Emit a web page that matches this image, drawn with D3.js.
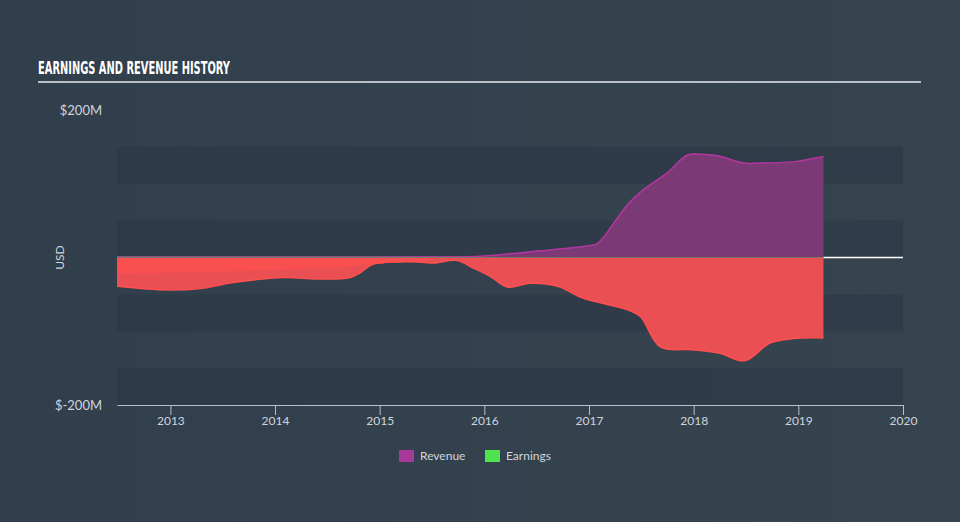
<!DOCTYPE html>
<html>
<head>
<meta charset="utf-8">
<script src="https://cdn.jsdelivr.net/npm/d3@7"></script>
<style>
  body { margin: 0; background: #344352; }
  svg { display: block; }
  text { font-family: Lato, "DejaVu Sans", sans-serif; }
</style>
</head>
<body>
<svg id="chart" width="960" height="522"></svg>
<script>
// values, in $M, keyed by decimal year
var revYears = [2012.49, 2015.0, 2015.77, 2016.0, 2016.53, 2016.98, 2017.07, 2017.13, 2017.37, 2017.52, 2017.75, 2017.94, 2018.07, 2018.23, 2018.48, 2018.64, 2018.96, 2019.24];
var revenue  = [0.5, 0.5, 1, 2, 9, 15.6, 18, 26, 72, 92, 115, 139, 140, 138, 128, 128, 130, 137];

var earnYears = [2012.49, 2012.97, 2013.29, 2013.6, 2014.08, 2014.4, 2014.72, 2014.81, 2014.94, 2015.36, 2015.51, 2015.74, 2015.89, 2016.06, 2016.22, 2016.44, 2016.7, 2016.94, 2017.37, 2017.49, 2017.68, 2017.99, 2018.25, 2018.49, 2018.73, 2018.95, 2019.24];
var earnings  = [-39, -44, -42, -34, -27, -29, -27, -21, -9, -6, -7.5, -4, -14, -26, -40, -35, -39, -55, -71, -80, -121, -125, -130, -140, -116, -110, -109];

// lighter red band seen at the top of the earnings area early on
var bandYears = [2012.49, 2013.5, 2014.5, 2014.94, 2015.5];
var band      = [-22, -19, -14, -9, -4];

var xTicks = [2013, 2014, 2015, 2016, 2017, 2018, 2019, 2020];
var yLabels = [200, -200];
var bandEdges = [150, 100, 50, 0, -50, -100, -150, -200];

var legendNames = ["Revenue", "Earnings"];
var legendColors = ["#a8399b", "#4ee34e"];

(function () {
  var svg = d3.select("#chart");

  var defs = svg.append("defs");
  var grad = defs.append("linearGradient").attr("id", "bg").attr("x1", 0).attr("x2", 1);
  grad.append("stop").attr("offset", 0).attr("stop-color", "#313e4c");
  grad.append("stop").attr("offset", 1).attr("stop-color", "#36444f");
  svg.append("rect").attr("width", 960).attr("height", 522).attr("fill", "url(#bg)");

  var mLeft = 117, mRight = 903, mTop = 110, mBottom = 405;

  var x = d3.scaleLinear().domain([2012.49, 2020]).range([mLeft, mRight]);
  var y = d3.scaleLinear().domain([-200, 200]).range([mBottom, mTop]);

  // title
  svg.append("text").attr("x", 38).attr("y", 74)
    .style("font-family", "'DejaVu Sans Condensed', 'DejaVu Sans', sans-serif")
    .style("font-weight", "bold").style("font-size", "17px")
    .attr("textLength", 192).attr("lengthAdjust", "spacingAndGlyphs")
    .attr("fill", "#ffffff").text("EARNINGS AND REVENUE HISTORY");
  svg.append("line").attr("x1", 38).attr("x2", 921).attr("y1", 82).attr("y2", 82)
    .attr("stroke", "#b9bfc7").attr("stroke-width", 2);

  // background bands
  for (var i = 0; i < bandEdges.length - 1; i += 2) {
    svg.append("rect").attr("x", mLeft).attr("width", mRight - mLeft)
      .attr("y", y(bandEdges[i])).attr("height", y(bandEdges[i + 1]) - y(bandEdges[i]))
      .attr("fill", "#2d3947").attr("opacity", 0.75);
  }

  // zero line
  svg.append("line").attr("x1", mLeft).attr("x2", mRight).attr("y1", y(0)).attr("y2", y(0))
    .attr("stroke", "#ffffff").attr("stroke-width", 1.5);

  var revData = revYears.map((d, i) => ({ t: d, v: revenue[i] }));
  var earnData = earnYears.map((d, i) => ({ t: d, v: earnings[i] }));
  var bandData = bandYears.map((d, i) => ({ t: d, v: band[i] }));

  var curve = d3.curveCatmullRom.alpha(0.5);
  var area = d3.area().curve(curve)
    .x(d => x(d.t)).y0(y(0)).y1(d => y(d.v));
  var line = d3.line().curve(curve)
    .x(d => x(d.t)).y(d => y(d.v));

  svg.append("path").datum(revData).attr("d", area).attr("fill", "#7b3a76");
  svg.append("path").datum(revData).attr("d", line).attr("fill", "none")
    .attr("stroke", "#b5369f").attr("stroke-width", 1.5);

  svg.append("path").datum(earnData).attr("d", area).attr("fill", "#ea5053");
  svg.append("path").datum(bandData).attr("d", area).attr("fill", "#fd4f50").attr("opacity", 0.8);
  svg.append("path").datum(earnData).attr("d", line).attr("fill", "none")
    .attr("stroke", "#ff4f4f").attr("stroke-width", 1.5);

  svg.append("line").attr("x1", mLeft).attr("x2", x(revYears[revYears.length - 1]))
    .attr("y1", y(0)).attr("y2", y(0)).attr("stroke", "#7b7a62").attr("stroke-width", 1);

  // x axis
  var xAxis = d3.axisBottom(x).tickValues(xTicks).tickFormat(d3.format("d")).tickSize(10).tickSizeOuter(0);
  var gx = svg.append("g").attr("transform", "translate(0," + mBottom + ")").call(xAxis);
  gx.select(".domain").attr("stroke", "#b7bfca");
  gx.selectAll(".tick line").attr("stroke", "#b7bfca");
  gx.selectAll(".tick text").attr("fill", "#d0d5dc").style("font-size", "12px").attr("dy", "0.45em").attr("y", 15);

  // y labels
  svg.selectAll(".ylab").data(yLabels).enter().append("text")
    .attr("x", 102).attr("y", d => y(d)).attr("dy", "0.35em")
    .attr("text-anchor", "end").attr("fill", "#d0d5dc").style("font-size", "13px")
    .text(d => "$" + d + "M");
  svg.append("text").attr("transform", "translate(60," + y(0) + ") rotate(-90)")
    .attr("text-anchor", "middle").attr("dy", "0.35em")
    .attr("fill", "#d0d5dc").style("font-size", "12px").text("USD");

  // legend
  var lg = svg.selectAll(".lg").data(legendNames).enter().append("g")
    .attr("transform", (d, i) => "translate(" + (399 + i * 86) + ",450)");
  lg.append("rect").attr("width", 15).attr("height", 12).attr("fill", (d, i) => legendColors[i]);
  lg.append("text").attr("x", 21).attr("y", 6).attr("dy", "0.35em")
    .attr("fill", "#d0d5dc").style("font-size", "12px").text(d => d);
})();
</script>
</body>
</html>
